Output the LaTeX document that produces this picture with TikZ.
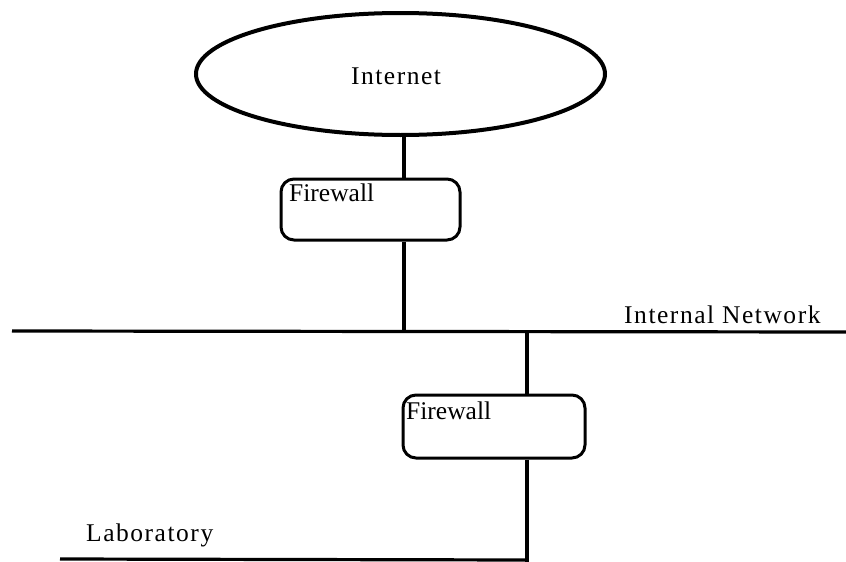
\documentclass[tikz,border=0pt]{standalone}
\usepackage{fontspec}
\setmainfont{Liberation Serif}
\newfontfamily\spaced[LetterSpace=6]{Liberation Serif}
\usetikzlibrary{shapes.geometric}
\begin{document}
\begin{tikzpicture}[x=1pt,y=-1pt,
  wire/.style={line width=3.2pt},
  cloud/.style={ellipse,draw,line width=4pt,minimum width=409pt,minimum height=122pt,inner sep=0pt},
  fwbox/.style={draw,line width=3pt,rounded corners=13pt,inner sep=0pt},
  fwlabel/.style={anchor=north west,inner sep=0pt,font=\fontsize{25.5}{28}\selectfont},
  netlabel/.style={inner sep=0pt,font=\fontsize{25.5}{28}\selectfont\spaced}]
\useasboundingbox (0,0) rectangle (846,562);

% Internet cloud
\node[cloud] (internet) at (400.5,74) {};
\node[netlabel] (inettext) at (396,76) {Internet};

% Outer firewall
\node[fwbox,minimum width=179pt,minimum height=61pt] (fw1) at (370.5,209.5) {};
\node[fwlabel] (fw1text) at (289,184) {Firewall};

% Inner firewall
\node[fwbox,minimum width=182pt,minimum height=63pt] (fw2) at (494,426.5) {};
\node[fwlabel] (fw2text) at (406,402) {Firewall};

% Network segments
\coordinate (netL) at (12,331);
\coordinate (netR) at (846,332);
\coordinate (labL) at (60,559);
\coordinate (labR) at (527,560);
\coordinate (up1) at (404,331.5);
\coordinate (up2) at (527,331.5);
\coordinate (down2) at (527,562);
\draw[wire] (netL) -- (netR);
\draw[wire] (labL) -- (labR);
\node[netlabel,anchor=base west] (nettext) at (624,323) {Internal Network};
\node[netlabel,anchor=base west] (labtext) at (86,541) {Laboratory};

% Links
\draw[wire] (internet.south -| up1) -- (fw1.north -| up1);
\draw[wire] (fw1.south -| up1) -- (up1);
\draw[wire] (up2) -- (fw2.north -| up2);
\draw[wire] (fw2.south -| up2) -- (down2);
\end{tikzpicture}
\end{document}
